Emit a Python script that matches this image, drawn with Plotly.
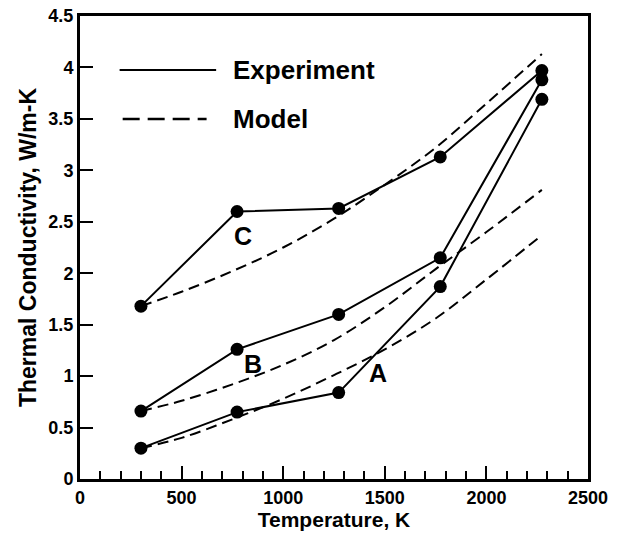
import plotly.graph_objects as go

# Experimental data (temperature K, thermal conductivity W/m-K)
temp_exp = [300, 773, 1273, 1773, 2273]
exp_C = [1.68, 2.60, 2.63, 3.13, 3.97]
exp_B = [0.66, 1.26, 1.60, 2.15, 3.88]
exp_A = [0.30, 0.65, 0.84, 1.87, 3.69]

# Model curves
temp_model = [300, 500, 750, 1000, 1250, 1500, 1750, 2000, 2273]
model_C = [1.68, 1.82, 2.02, 2.25, 2.53, 2.86, 3.22, 3.65, 4.13]
model_B = [0.66, 0.76, 0.92, 1.11, 1.35, 1.67, 2.04, 2.40, 2.81]
model_A = [0.30, 0.40, 0.58, 0.78, 1.01, 1.26, 1.56, 1.94, 2.37]

curve_labels = ["C", "B", "A"]
label_x = [802, 850, 1467]
label_y = [2.36, 1.12, 1.03]

legend_names = ["Experiment", "Model"]

FONT = "Liberation Sans"

fig = go.Figure()
for ym in [model_C, model_B, model_A]:
    fig.add_trace(go.Scatter(x=temp_model, y=ym, mode="lines", line_shape="spline",
                             line=dict(color="black", width=2, dash="11px,6px"),
                             showlegend=False, hoverinfo="skip"))
for ye in [exp_C, exp_B, exp_A]:
    fig.add_trace(go.Scatter(x=temp_exp, y=ye, mode="lines+markers",
                             line=dict(color="black", width=2),
                             marker=dict(color="black", size=13),
                             showlegend=False))

for t, lx, ly in zip(curve_labels, label_x, label_y):
    fig.add_annotation(x=lx, y=ly, text=t, showarrow=False,
                       font=dict(family=FONT, size=25, color="black", weight="bold"))

# Manual legend
fig.add_shape(type="line", x0=195, x1=670, y0=3.975, y1=3.975,
              line=dict(color="black", width=2))
fig.add_shape(type="line", x0=210, x1=623, y0=3.50, y1=3.50,
              line=dict(color="black", width=2.5, dash="17px,8px"))
fig.add_annotation(x=745, y=3.975, text=legend_names[0], showarrow=False, xanchor="left",
                   font=dict(family=FONT, size=26, color="black", weight="bold"))
fig.add_annotation(x=745, y=3.50, text=legend_names[1], showarrow=False, xanchor="left",
                   font=dict(family=FONT, size=26, color="black", weight="bold"))

axis_common = dict(showline=True, linecolor="black", linewidth=3, mirror=True,
                   ticks="inside", ticklen=13, tickwidth=2, tickcolor="black",
                   showgrid=False, zeroline=False, automargin=False,
                   tickfont=dict(family=FONT, size=18, color="black", weight="bold"))

fig.update_xaxes(range=[0, 2500], dtick=500, tick0=0,
                 title=dict(text="Temperature, K", standoff=6,
                            font=dict(family=FONT, size=21, color="black", weight="bold")),
                 minor=dict(dtick=100, ticks="inside", ticklen=8, tickwidth=1.5, tickcolor="black"),
                 **axis_common)
fig.update_yaxes(range=[0, 4.5], dtick=0.5, tick0=0,
                 title=dict(text="Thermal Conductivity, W/m-K", standoff=6,
                            font=dict(family=FONT, size=23, color="black", weight="bold")),
                 **axis_common)

fig.update_layout(width=623, height=535, margin=dict(l=80, r=35, t=16, b=56),
                  plot_bgcolor="white", paper_bgcolor="white", showlegend=False)

fig.write_html("out.html")
